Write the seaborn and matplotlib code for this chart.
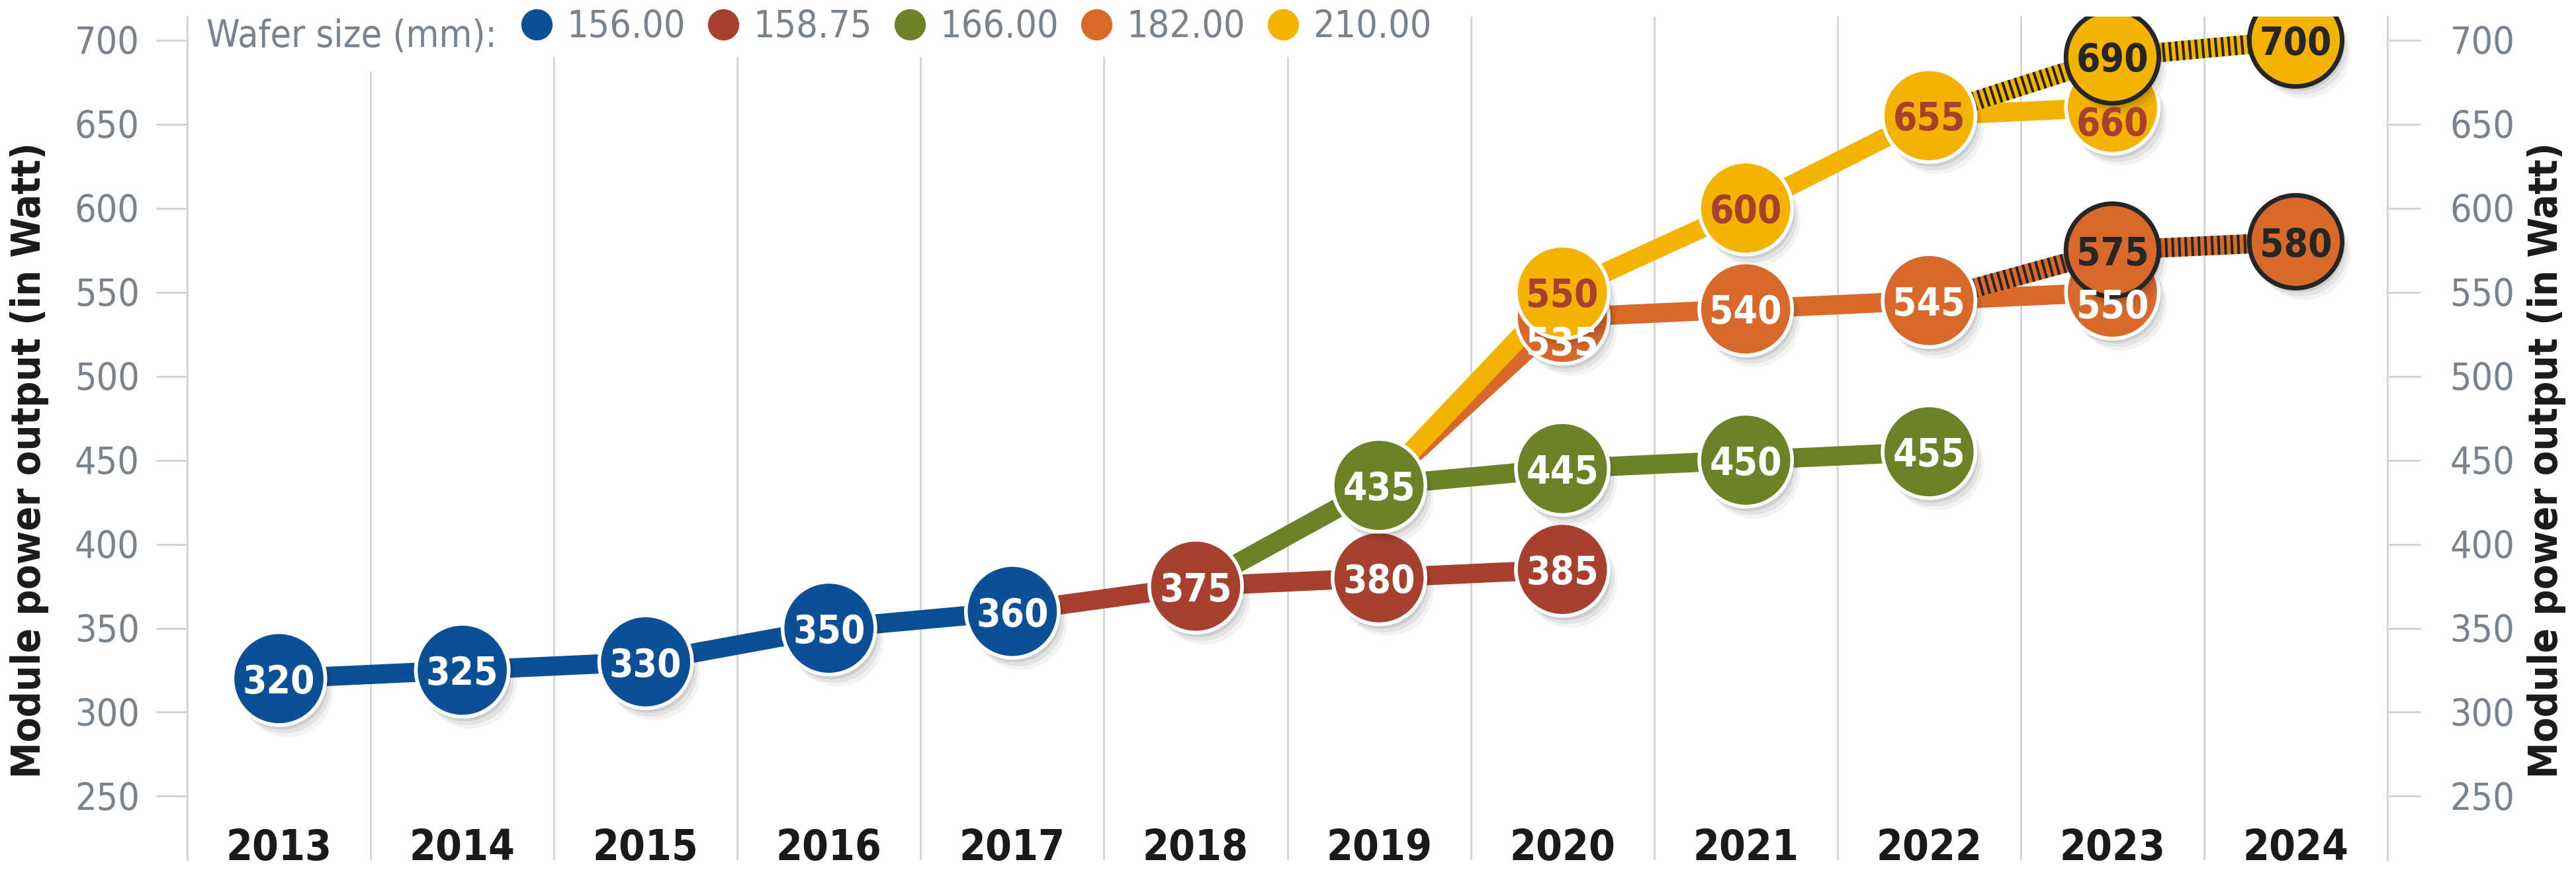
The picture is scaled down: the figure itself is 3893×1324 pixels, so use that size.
import matplotlib
matplotlib.use('Agg')
import matplotlib.pyplot as plt
import matplotlib.patheffects as pe
from matplotlib.lines import Line2D
import numpy as np
import seaborn as sns

# data
years = [2013, 2014, 2015, 2016, 2017, 2018, 2019, 2020, 2021, 2022, 2023, 2024]
wafer_sizes = ['156.00', '158.75', '166.00', '182.00', '210.00']
colors = ['#0b4f96', '#a8402f', '#6d8226', '#d9692a', '#f4b300']

w156_years = [2013, 2014, 2015, 2016, 2017]
w156_vals = [320, 325, 330, 350, 360]
w15875_years = [2018, 2019, 2020]
w15875_vals = [375, 380, 385]
w166_years = [2019, 2020, 2021, 2022]
w166_vals = [435, 445, 450, 455]
w182_years = [2020, 2021, 2022, 2023]
w182_vals = [535, 540, 545, 550]
w210_years = [2020, 2021, 2022, 2023]
w210_vals = [550, 600, 655, 660]

# projected values (hatched lines, dark outline)
w182_proj_years = [2023, 2024]
w182_proj_vals = [575, 580]
w210_proj_years = [2023, 2024]
w210_proj_vals = [690, 700]

yticks = list(range(250, 701, 50))

# labels pushed down inside markers that sit under another marker (points)
label_shift = {(2020, 535): -25, (2023, 550): -12, (2023, 660): -15}

sns.set_theme(style='white')
plt.rcParams['font.family'] = ['DejaVu Sans']
plt.rcParams['font.stretch'] = 'condensed'

grey_txt = '#78838d'
grid_c = '#cfd4db'
dark = '#262626'

fig = plt.figure(figsize=(38.93, 13.24), dpi=100)
ax = fig.add_axes([283 / 3893, 24 / 1324, 3325 / 3893, 1275 / 1324])
ax.set_xlim(2012.5, 2024.5)
ax.set_ylim(212, 714)

# lines: each wafer size continues from the point where it branched off
lw = 21
line_sets = [
    (w156_years, w156_vals, colors[0]),
    ([w156_years[-1]] + w15875_years, [w156_vals[-1]] + w15875_vals, colors[1]),
    ([w15875_years[0]] + w166_years, [w15875_vals[0]] + w166_vals, colors[2]),
    ([w166_years[0]] + w182_years, [w166_vals[0]] + w182_vals, colors[3]),
    ([w166_years[0]] + w210_years, [w166_vals[0]] + w210_vals, colors[4]),
]
for xs, ys, c in line_sets:
    sns.lineplot(x=xs, y=ys, color=c, linewidth=lw, ax=ax, zorder=3,
                 sort=False, estimator=None, solid_joinstyle='round')

proj_sets = [
    ([2022] + w182_proj_years, [w182_vals[w182_years.index(2022)]] + w182_proj_vals, colors[3]),
    ([2022] + w210_proj_years, [w210_vals[w210_years.index(2022)]] + w210_proj_vals, colors[4]),
]
for xs, ys, c in proj_sets:
    sns.lineplot(x=xs, y=ys, color=c, linewidth=lw, ax=ax, zorder=3.2,
                 sort=False, estimator=None)
    ax.plot(xs, ys, color=dark, linewidth=lw, dashes=(0.14, 0.2),
            dash_capstyle='butt', zorder=3.3)

shadow = [pe.SimplePatchShadow(offset=(3, -5), shadow_rgbFace='k', alpha=0.10),
          pe.SimplePatchShadow(offset=(6, -9), shadow_rgbFace='k', alpha=0.07),
          pe.SimplePatchShadow(offset=(9, -13), shadow_rgbFace='k', alpha=0.05),
          pe.Normal()]

ms = 101 ** 2
marker_sets = [
    (w156_years, w156_vals, colors[0], 'white', 'white'),
    (w15875_years, w15875_vals, colors[1], 'white', 'white'),
    (w166_years, w166_vals, colors[2], 'white', 'white'),
    (w182_years, w182_vals, colors[3], 'white', 'white'),
    (w210_years, w210_vals, colors[4], 'white', colors[1]),
    (w182_proj_years, w182_proj_vals, colors[3], dark, dark),
    (w210_proj_years, w210_proj_vals, colors[4], dark, dark),
]
z = 4
for xs, ys, c, ec, tc in marker_sets:
    sns.scatterplot(x=xs, y=ys, s=ms, color=c, edgecolor=ec,
                    linewidth=4 if ec == 'white' else 5, ax=ax, zorder=z, legend=False)
    ax.collections[-1].set_path_effects(shadow)
    for x, y in zip(xs, ys):
        shift = label_shift.get((x, y), 0)
        ax.annotate(str(y), (x, y), xytext=(0, shift),
                    textcoords='offset points', ha='center', va='center_baseline',
                    fontsize=42, fontweight='bold', color=tc,
                    zorder=15 if shift else z + 0.5)
    z += 1

# axes styling
for s in ['top', 'bottom']:
    ax.spines[s].set_visible(False)
for s in ['left', 'right']:
    ax.spines[s].set_color(grid_c)
    ax.spines[s].set_linewidth(2)

ax.set_xticks(years)
ax.set_xticklabels([str(y) for y in years], fontsize=46, fontweight='bold', color='#1a1a1a')
for lab in ax.get_xticklabels():
    lab.set_va('baseline')
ax.tick_params(axis='x', length=0, pad=0)
ax.set_xticks(np.arange(2013.5, 2024), minor=True)
ax.tick_params(axis='x', which='minor', length=0)
ax.grid(False)
ax.grid(which='minor', axis='x', color=grid_c, linewidth=2)

ax.set_yticks(yticks)
ax.tick_params(axis='y', left=True, direction='out', length=34, width=2.2, color=grid_c,
               labelsize=41, labelcolor=grey_txt, pad=18)
ax.set_xlabel('')
ax.set_ylabel('')

ax2 = ax.twinx()
ax2.set_ylim(ax.get_ylim())
ax2.set_yticks(yticks)
ax2.tick_params(axis='y', right=True, direction='out', length=36, width=2.2, color=grid_c,
                labelsize=41, labelcolor=grey_txt, pad=32)
for s in ax2.spines.values():
    s.set_visible(False)

# legend: title text on the left, then the five wafer sizes
title = ax.text((312 - 283) / 3325, (1300 - 55) / 1275, 'Wafer size (mm):',
                transform=ax.transAxes, ha='left', va='center', fontsize=41,
                color=grey_txt, zorder=20,
                bbox=dict(boxstyle='square,pad=0.45', fc='white', ec='none'))
fig.canvas.draw()
tb = title.get_window_extent()
leg_x = ax.transAxes.inverted().transform((tb.x1 + 20, 0))[0]

handles = [Line2D([], [], marker='o', ls='', color=c, ms=33) for c in colors]
leg = ax.legend(handles, wafer_sizes, ncol=5, loc='upper left',
                bbox_to_anchor=(leg_x, 1.022), frameon=True, fontsize=41,
                labelcolor=grey_txt, handlelength=0.8, handletextpad=0.4,
                columnspacing=0.6, borderpad=0.3, borderaxespad=0)
leg.get_frame().set_facecolor('white')
leg.get_frame().set_edgecolor('none')
leg.get_frame().set_alpha(1)
leg.set_zorder(20)

label = 'Module power output (in Watt)'
fig.text(45 / 3893, 0.475, label, rotation=90, ha='center', va='center',
         fontsize=44, fontweight='bold', color='#1a1a1a')
fig.text(3849 / 3893, 0.475, label, rotation=90, ha='center', va='center',
         fontsize=44, fontweight='bold', color='#1a1a1a')

fig.savefig('out.png', dpi=100, facecolor='white')
